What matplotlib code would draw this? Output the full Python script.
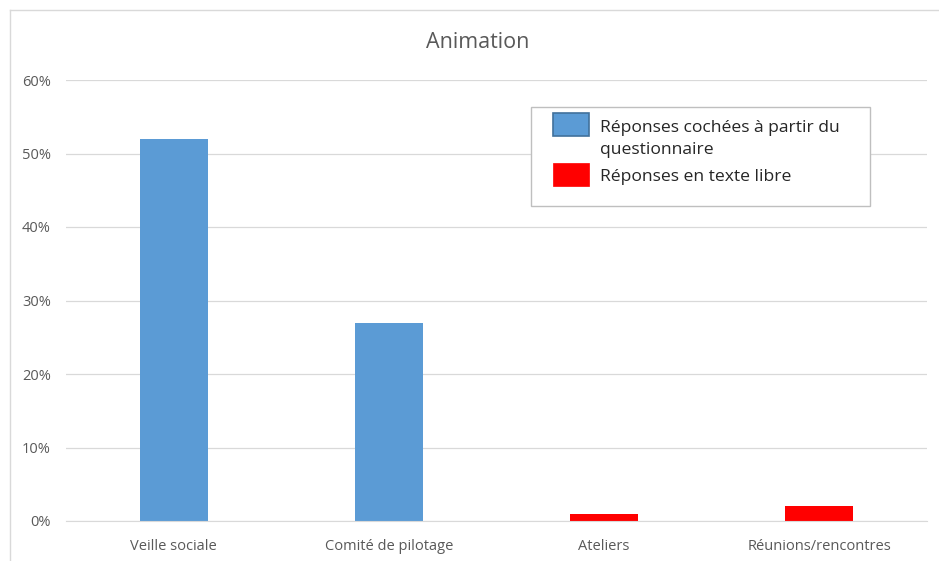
import matplotlib.pyplot as plt
import numpy as np
from matplotlib.patches import Rectangle
from matplotlib.ticker import PercentFormatter

categories = ['Veille sociale', 'Comité de pilotage', 'Ateliers', 'Réunions/rencontres']
cochees = [0.52, 0.27, 0.0, 0.0]
texte_libre = [0.0, 0.0, 0.01, 0.02]
yticks = [0, 0.1, 0.2, 0.3, 0.4, 0.5, 0.6]
series_labels = ['Réponses cochées à partir du\nquestionnaire', 'Réponses en texte libre']

plt.rcParams['font.family'] = ['Open Sans', 'DejaVu Sans']
gris = '#595959'
bleu = '#5B9BD5'
rouge = '#FF0000'

W, H = 939, 561
fig = plt.figure(figsize=(W / 100, H / 100), dpi=100)


def fx(px):
    return px / W


def fy(py):
    return 1 - py / H


ax = fig.add_axes([fx(66), fy(521), fx(927 - 66), (521 - 80) / H])

x = np.arange(len(categories))
ax.bar(x, cochees, width=0.316, color=bleu)
ax.bar(x, texte_libre, width=0.316, color=rouge)

ax.set_xlim(-0.5, len(categories) - 0.5)
ax.set_ylim(0, 0.6)
ax.set_yticks(yticks)
ax.yaxis.set_major_formatter(PercentFormatter(1.0, decimals=0))
ax.set_xticks(x)
ax.set_xticklabels(categories)
ax.tick_params(axis='both', length=0, labelsize=10.5, colors=gris)
ax.tick_params(axis='y', pad=11)
ax.tick_params(axis='x', pad=13)
ax.grid(axis='y', color='#D9D9D9', linewidth=0.9)
ax.set_axisbelow(True)
for s in ['top', 'right', 'left']:
    ax.spines[s].set_visible(False)
ax.spines['bottom'].set_color('#D9D9D9')

fig.text(fx(478), fy(42), 'Animation', ha='center', va='center', fontsize=15.5, color=gris)

# légende dessinée à la main : cadre, carrés de couleur, textes
fig.add_artist(Rectangle((fx(531), fy(206)), fx(870 - 531), (206 - 107) / H,
                         transform=fig.transFigure, facecolor='white',
                         edgecolor='#BFBFBF', linewidth=1))
fig.add_artist(Rectangle((fx(553), fy(136)), fx(36), 23 / H,
                         transform=fig.transFigure, facecolor=bleu,
                         edgecolor='#41719C', linewidth=1.2))
fig.add_artist(Rectangle((fx(553), fy(186)), fx(36), 23 / H,
                         transform=fig.transFigure, facecolor=rouge,
                         edgecolor=rouge, linewidth=0.5))
fig.text(fx(600), fy(139), series_labels[0], ha='left', va='center',
         fontsize=12.6, color='#262626', linespacing=1.45)
fig.text(fx(600), fy(177), series_labels[1], ha='left', va='center',
         fontsize=12.6, color='#262626')

# cadre du graphique
fig.add_artist(plt.Line2D([fx(10), fx(10)], [0, fy(10)], color='#D9D9D9', linewidth=1))
fig.add_artist(plt.Line2D([fx(10), 1], [fy(10), fy(10)], color='#D9D9D9', linewidth=1))

fig.savefig('out.png', dpi=100)
